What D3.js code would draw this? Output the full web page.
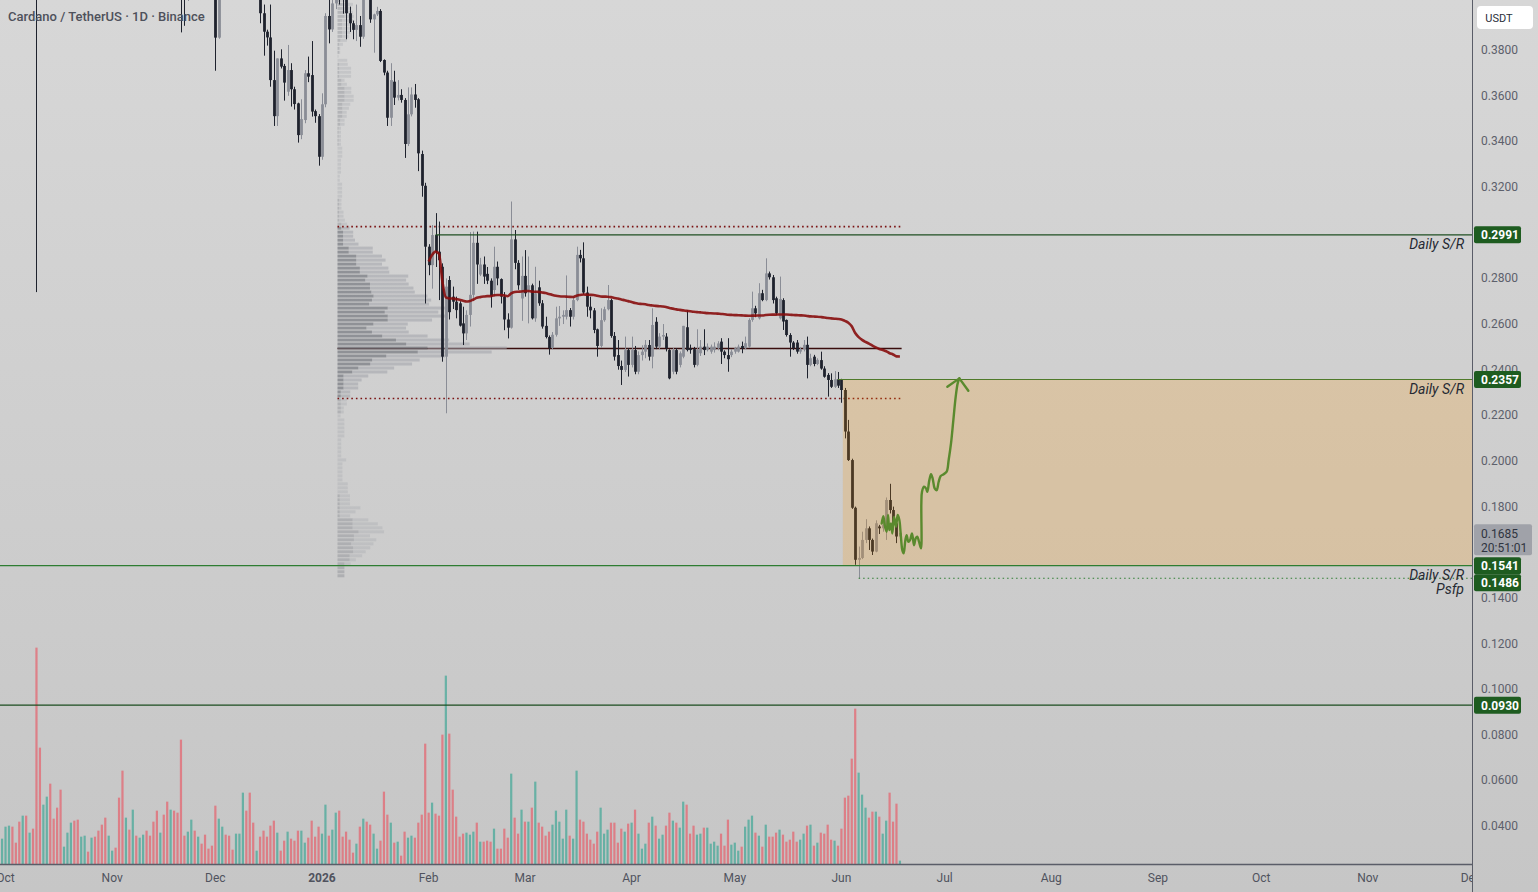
<!DOCTYPE html>
<meta charset="utf-8">
<head>
<script src="https://cdn.jsdelivr.net/npm/d3@7"></script>
<style>
  body { margin: 0; background: #d2d2d2; }
  svg { display: block; font-family: Roboto, "Noto Sans", sans-serif; }
</style>
</head>
<body>
<div id="chart"></div>
<script>
// ---- data ----
var title = "Cardano / TetherUS \u00b7 1D \u00b7 Binance";
var firstDay = [2025, 8, 30];   // 30 Sep 2025, one candle per day after that

var opens = [
  .790,.800,.825,.845,.840,.820,.810,.865,.810,.825,
  .790,.640,.620,.700,.720,.690,.660,.630,.610,.625,
  .645,.660,.630,.620,.635,.645,.640,.665,.650,.630,
  .615,.595,.610,.615,.590,.550,.520,.545,.535,.570,
  .560,.585,.595,.560,.550,.520,.505,.515,.485,.460,
  .475,.455,.440,.420,.410,.420,.425,.415,.435,.425,
  .415,.410,.406,.3855,.415,.445,.440,.420,.418,.425,
  .430,.460,.440,.425,.412,.415,.3962,.3881,.3856,.3669,
  .3511,.3764,.3731,.3618,.3713,.3629,.3567,.3428,.3494,.3699,
  .3691,.3533,.3511,.3333,.3563,.3950,.3891,.4005,.4100,.4050,
  .4020,.3962,.3918,.3889,.3910,.3859,.4120,.4060,.3935,.3957,
  .3972,.3757,.3702,.3504,.3662,.3592,.3604,.3582,.3389,.3519,
  .3606,.3585,.3345,.3206,.2939,.2858,.2990,.2917,.2851,.2457,
  .2793,.2720,.2698,.2691,.2603,.2559,.2640,.2728,.2956,.2817,
  .2861,.2820,.2790,.2749,.2851,.2797,.2720,.2620,.2584,.2971,
  .2868,.2712,.2811,.2749,.2770,.2625,.2761,.2691,.2592,.2543,
  .2495,.2553,.2625,.2632,.2632,.2661,.2632,.2705,.2903,.2888,
  .2738,.2676,.2660,.2577,.2504,.2617,.2665,.2705,.2548,.2464,
  .2416,.2399,.2486,.2421,.2486,.2391,.2464,.2479,.2508,.2457,
  .2610,.2501,.2545,.2545,.2486,.2391,.2486,.2421,.2457,.2586,
  .2494,.2490,.2421,.2472,.2501,.2486,.2479,.2486,.2494,.2523,
  .2479,.2464,.2464,.2479,.2479,.2504,.2494,.2501,.2618,.2669,
  .2625,.2735,.2705,.2822,.2805,.2713,.2625,.2705,.2618,.2552,
  .2519,.2519,.2479,.2490,.2509,.2421,.2457,.2425,.2442,.2405,
  .2377,.2355,.2325,.2358,.2355,.2311,.2129,.2004,.1795,.1567,
  .1575,.1654,.1705,.1654,.1603,.1713,.1705,.1698,.1829,.1785,
  .1727,.1669
];
var highs = [
  .805,.830,.850,.860,.845,.840,.870,.875,.830,.830,
  .800,.660,.710,.730,.725,.710,.680,.640,.630,.650,
  .670,.680,.650,.640,.650,.650,.670,.680,.660,.650,
  .625,.615,.620,.620,.595,.560,.560,.555,.580,.575,
  .590,.600,.600,.575,.565,.530,.520,.520,.495,.485,
  .480,.475,.445,.425,.430,.435,.430,.440,.440,.430,
  .420,.415,.410,.420,.450,.455,.445,.425,.430,.440,
  .470,.470,.445,.430,.420,.418,.400,.3890,.4000,.3798,
  .3764,.3804,.3740,.3823,.3743,.3640,.3570,.3585,.3713,.3772,
  .3840,.3540,.3520,.3611,.3962,.4020,.4100,.4150,.4200,.4100,
  .4040,.3991,.3930,.4000,.3950,.4140,.4180,.4080,.3960,.3990,
  .3980,.3760,.3710,.3743,.3710,.3669,.3629,.3590,.3637,.3637,
  .3652,.3590,.3360,.3219,.2950,.3034,.3086,.3049,.2866,.2800,
  .2810,.2764,.2720,.2700,.2676,.2660,.3003,.3005,.3005,.2890,
  .2896,.2850,.2800,.2939,.2874,.2800,.2740,.2647,.3137,.3012,
  .2880,.2896,.2924,.2896,.2777,.2851,.2790,.2705,.2632,.2550,
  .2565,.2676,.2679,.2660,.2813,.2670,.2720,.2939,.2925,.2958,
  .2764,.2720,.2670,.2580,.2669,.2676,.2771,.2710,.2565,.2530,
  .2440,.2545,.2495,.2545,.2504,.2480,.2507,.2530,.2530,.2669,
  .2630,.2560,.2600,.2560,.2490,.2495,.2495,.2480,.2592,.2661,
  .2510,.2500,.2577,.2530,.2577,.2515,.2510,.2520,.2525,.2538,
  .2485,.2538,.2490,.2500,.2510,.2523,.2545,.2625,.2742,.2680,
  .2779,.2750,.2888,.2830,.2815,.2720,.2808,.2713,.2620,.2560,
  .2525,.2530,.2500,.2530,.2545,.2470,.2465,.2450,.2479,.2415,
  .2385,.2384,.2394,.2390,.2360,.2320,.2180,.2010,.1800,.1625,
  .1690,.1745,.1713,.1660,.1740,.1720,.1740,.1840,.1900,.1800,
  .1740,.1690
];
var lows = [
  .775,.795,.820,.830,.815,.805,.805,.800,.795,.780,
  .274,.600,.610,.680,.650,.650,.620,.590,.605,.615,
  .630,.620,.610,.610,.625,.635,.635,.645,.620,.610,
  .590,.590,.600,.580,.540,.500,.510,.530,.525,.550,
  .550,.575,.550,.545,.510,.490,.500,.480,.450,.450,
  .445,.430,.3878,.3907,.4016,.410,.410,.410,.420,.410,
  .405,.4035,.371,.385,.413,.430,.415,.413,.410,.415,
  .425,.435,.410,.405,.405,.3918,.3776,.3820,.3640,.3468,
  .3468,.3720,.3579,.3600,.3553,.3540,.3395,.3410,.3480,.3660,
  .3509,.3482,.3294,.3320,.3550,.3830,.3880,.3980,.4000,.3960,
  .3848,.3880,.3848,.3840,.3815,.3850,.4035,.3920,.3789,.3950,
  .3748,.3690,.3468,.3468,.3560,.3580,.3570,.3328,.3380,.3510,
  .3548,.3270,.3158,.2690,.2814,.2755,.2850,.2705,.2435,.2209,
  .2620,.2666,.2625,.2589,.2508,.2530,.2589,.2700,.2776,.2810,
  .2776,.2775,.2672,.2720,.2770,.2690,.2573,.2537,.2580,.2840,
  .2750,.2614,.2720,.2603,.2620,.2610,.2680,.2580,.2537,.2466,
  .2490,.2545,.2592,.2600,.2620,.2589,.2620,.2700,.2870,.2730,
  .2632,.2625,.2560,.2457,.2495,.2610,.2660,.2540,.2440,.2400,
  .2333,.2390,.2370,.2410,.2380,.2380,.2440,.2450,.2440,.2406,
  .2490,.2490,.2530,.2480,.2358,.2380,.2380,.2410,.2450,.2480,
  .2470,.2410,.2415,.2460,.2464,.2480,.2470,.2475,.2485,.2425,
  .2450,.2391,.2455,.2470,.2475,.2472,.2490,.2495,.2610,.2630,
  .2620,.2700,.2700,.2795,.2690,.2640,.2620,.2574,.2545,.2457,
  .2486,.2470,.2470,.2480,.2362,.2415,.2415,.2420,.2400,.2365,
  .2282,.2320,.2320,.2320,.2255,.2099,.2000,.1790,.1545,.1486,
  .1570,.1640,.1610,.1588,.1600,.1680,.1690,.1654,.1770,.1700,
  .1640,.1660
];
var closes = [
  .800,.825,.845,.840,.820,.810,.865,.810,.825,.790,
  .640,.620,.700,.720,.690,.660,.630,.610,.625,.645,
  .660,.630,.620,.635,.645,.640,.665,.650,.630,.615,
  .595,.610,.615,.590,.550,.520,.545,.535,.570,.560,
  .585,.595,.560,.550,.520,.505,.515,.485,.460,.475,
  .455,.440,.420,.410,.420,.425,.415,.435,.425,.415,
  .410,.406,.3855,.415,.445,.440,.420,.418,.425,.430,
  .460,.440,.425,.412,.415,.3962,.3881,.3856,.3669,.3511,
  .3764,.3728,.3658,.3713,.3629,.3564,.3428,.3498,.3699,.3684,
  .3531,.3511,.3333,.3563,.3950,.3891,.4005,.4100,.4050,.4020,
  .3962,.3918,.3889,.3910,.3859,.4120,.4060,.3935,.3957,.3972,
  .3753,.3702,.3504,.3669,.3592,.3604,.3582,.3389,.3519,.3606,
  .3582,.3348,.3206,.2939,.2858,.2990,.2917,.2880,.2457,.2764,
  .2652,.2698,.2661,.2593,.2559,.2640,.2728,.2956,.2861,.2861,
  .2808,.2790,.2723,.2851,.2800,.2720,.2620,.2584,.2971,.2868,
  .2770,.2811,.2735,.2770,.2625,.2735,.2691,.2589,.2543,.2495,
  .2553,.2625,.2632,.2640,.2661,.2632,.2705,.2903,.2888,.2738,
  .2676,.2660,.2574,.2504,.2617,.2665,.2705,.2548,.2457,.2416,
  .2399,.2486,.2421,.2486,.2391,.2464,.2479,.2509,.2457,.2596,
  .2501,.2545,.2552,.2494,.2362,.2486,.2391,.2472,.2592,.2486,
  .2486,.2421,.2486,.2501,.2486,.2501,.2501,.2501,.2515,.2479,
  .2464,.2446,.2479,.2494,.2501,.2494,.2516,.2618,.2669,.2647,
  .2735,.2705,.2822,.2805,.2705,.2647,.2710,.2611,.2552,.2519,
  .2494,.2479,.2490,.2509,.2421,.2450,.2425,.2443,.2405,.2369,
  .2355,.2325,.2358,.2330,.2311,.2129,.2004,.1795,.1567,.1575,
  .1654,.1705,.1654,.1603,.1727,.1705,.1720,.1829,.1785,.1720,
  .1669,.1685
];
// volume, millions
var volumes = [
  76,112,115,112,64,127,145,145,94,106,
  649,349,178,202,241,136,169,223,52,94,
  124,130,133,82,85,37,79,82,100,118,
  139,85,40,49,199,280,139,103,163,85,
  79,88,100,85,127,160,94,148,187,163,
  160,154,373,85,97,133,100,82,61,88,
  46,55,175,136,112,88,85,43,91,91,
  214,160,214,124,40,82,100,82,115,130,
  94,40,70,97,76,70,100,100,64,79,
  130,82,112,91,178,85,103,154,160,82,
  97,73,34,61,112,136,127,118,91,46,
  70,217,148,124,64,67,25,97,79,85,
  79,124,148,361,154,184,151,145,388,565,
  391,223,142,82,91,94,88,97,124,67,
  67,70,67,106,46,46,106,79,271,139,
  91,163,127,127,169,247,124,112,85,97,
  118,160,127,76,163,85,76,280,133,127,
  91,73,61,97,169,91,103,124,124,64,
  106,97,121,124,163,91,46,61,124,142,
  115,76,88,115,154,130,124,109,187,178,
  91,115,88,91,109,109,61,67,55,91,
  55,133,58,64,40,52,112,133,145,94,
  85,52,118,82,82,94,103,88,67,73,
  97,67,73,91,115,118,55,64,94,91,
  118,73,70,55,106,199,205,316,466,274,
  208,169,139,157,157,142,91,130,214,127,
  181,10
];

// 0.3000 and 0.1600 sit under the level badges in the picture, so they are not listed
var priceTicks = [0.38,0.36,0.34,0.32,0.28,0.26,0.24,0.22,0.20,0.18,0.14,0.12,0.10,0.08,0.06,0.04];
var lastPrice = 0.1685, countdown = "20:51:01";

// support / resistance levels (fromDay = candle index where the ray starts, null = full width)
var levelPrices = [0.2991, 0.2357, 0.1541, 0.1486, 0.0930];
var levelFrom   = [126, 243, null, 249, null];
var levelNotes  = ["Daily S/R", "Daily S/R", "Daily S/R", "Psfp", ""];

var zoneTop = 0.2357, zoneBottom = 0.1541, zoneFromDay = 244.4;
var profileFrom = 98, profileTo = 261, profileRows = 155;
var vwapAnchor = 124;   // 1 Feb 2026

// hand drawn projection (day index, price)
var arrowDays = [255.7,256.18,256.67,257.15,257.54,257.93,258.41,258.8,259.28,259.86,260.35,260.83,261.22,261.7,262.09,262.58,262.96,263.45,263.93,264.51,265.1,265.58,266.06,266.55,267.13,267.23,267.42,268.0,268.58,268.97,269.55,270.04,270.52,271.1,271.68,272.27,272.85,273.62,274.59,275.17,275.85,276.53,277.21,277.79,278.28];
var arrowPrices = [.1726,.1758,.1712,.1690,.1763,.1697,.1726,.1682,.1755,.1712,.1763,.1741,.1682,.1609,.1595,.1653,.1675,.1646,.1653,.1682,.1631,.1661,.1668,.1646,.1617,.1814,.1865,.1887,.1880,.1865,.1916,.1942,.1923,.1880,.1872,.1909,.1934,.1941,.1953,.2004,.2077,.2179,.2281,.2340,.2362];
var headDays = [274.79, 278.28, 280.89];
var headPrices = [.2325, .2362, .2308];

// ---- layout ----
var W = 1538, H = 892;
var plotR = 1472, plotB = 864;
var day = 864e5;
var t0 = Date.UTC(firstDay[0], firstDay[1], firstDay[2]);
function dateOf(i) { return new Date(t0 + i * day); }

var jan1 = Date.UTC(2026, 0, 1), pxDay = 3.44;
var x = d3.scaleUtc()
  .domain([new Date(jan1 - 322 / pxDay * day), new Date(jan1 + (plotR - 322) / pxDay * day)])
  .range([0, plotR]);
var y = d3.scaleLinear().domain([0.38, 0.04]).range([50.2, 826.1]);
var yv = d3.scaleLinear().domain([0, 650]).range([plotB, 647.3]);

var candles = opens.map(function (o, i) {
  return { i: i, date: dateOf(i), o: o, h: highs[i], l: lows[i], c: closes[i], v: volumes[i], up: closes[i] >= o };
});

var svg = d3.select("#chart").append("svg").attr("width", W).attr("height", H);
var defs = svg.append("defs");
var grad = defs.append("linearGradient").attr("id", "bg").attr("x1", 0).attr("y1", 0).attr("x2", 0).attr("y2", 1);
grad.append("stop").attr("offset", "0%").attr("stop-color", "#d7d7d7");
grad.append("stop").attr("offset", "100%").attr("stop-color", "#c6c6c6");
defs.append("clipPath").attr("id", "plot").append("rect").attr("width", plotR).attr("height", plotB);
defs.append("clipPath").attr("id", "xaxis").append("rect").attr("width", plotR).attr("height", H);

svg.append("rect").attr("width", W).attr("height", H).attr("fill", "url(#bg)");

var plot = svg.append("g").attr("clip-path", "url(#plot)");

// volume
plot.append("g").selectAll("rect").data(candles).join("rect")
  .attr("x", function (d) { return x(d.date) - 1.1; })
  .attr("width", 2.2)
  .attr("y", function (d) { return yv(d.v); })
  .attr("height", function (d) { return plotB - yv(d.v); })
  .attr("fill", function (d) { return d.up ? "rgba(8,153,129,0.5)" : "rgba(242,54,69,0.5)"; });

// fixed range volume profile
var pc = candles.slice(profileFrom, profileTo + 1);
var lo = d3.min(pc, function (d) { return d.l; }), hi = d3.max(pc, function (d) { return d.h; });
var step = (hi - lo) / profileRows;
var upRow = new Array(profileRows).fill(0), dnRow = new Array(profileRows).fill(0);
pc.forEach(function (d) {
  var r0 = Math.max(0, Math.floor((d.l - lo) / step)), r1 = Math.min(profileRows - 1, Math.floor((d.h - lo) / step));
  var share = d.v / (r1 - r0 + 1);
  for (var r = r0; r <= r1; r++) (d.up ? upRow : dnRow)[r] += share;
});
var rowTot = upRow.map(function (u, r) { return u + dnRow[r]; });
var poc = d3.maxIndex(rowTot), total = d3.sum(rowTot);
var a = poc, b = poc, acc = rowTot[poc];
while (acc < 0.7 * total) {
  var above = b + 1 < profileRows ? rowTot[b + 1] : -1, below = a > 0 ? rowTot[a - 1] : -1;
  if (above >= below) { b++; acc += above; } else { a--; acc += below; }
}
var pL = x(dateOf(profileFrom)) - 1.7, pR = x(dateOf(profileTo)) + 1.7;
var maxW = 0.3 * (pR - pL), wx = d3.scaleLinear().domain([0, d3.max(rowTot)]).range([0, maxW]);

plot.append("line").attr("x1", pL).attr("x2", pR)
  .attr("y1", y(lo + (poc + 0.5) * step)).attr("y2", y(lo + (poc + 0.5) * step))
  .attr("stroke", "#3a0d0d").attr("stroke-width", 1.5);

var rowsG = plot.append("g");
d3.range(profileRows).forEach(function (r) {
  var yt = y(lo + (r + 1) * step), yb = y(lo + r * step), inVA = r >= a && r <= b;
  rowsG.append("rect").attr("x", pL).attr("y", yt).attr("width", wx(upRow[r])).attr("height", Math.max(1, yb - yt - 1))
    .attr("fill", inVA ? "rgba(118,120,128,0.72)" : "rgba(118,120,128,0.35)");
  rowsG.append("rect").attr("x", pL + wx(upRow[r])).attr("y", yt).attr("width", wx(dnRow[r])).attr("height", Math.max(1, yb - yt - 1))
    .attr("fill", inVA ? "rgba(160,162,170,0.55)" : "rgba(160,162,170,0.3)");
});
[lo + (b + 1) * step, lo + a * step].forEach(function (p) {
  plot.append("line").attr("x1", pL).attr("x2", pR).attr("y1", y(p)).attr("y2", y(p))
    .attr("stroke", "#7a1212").attr("stroke-width", 1.6).attr("stroke-dasharray", "1.6,3");
});

// candles
var cg = plot.append("g");
cg.selectAll("line").data(candles).join("line")
  .attr("x1", function (d) { return Math.round(x(d.date)) + 0.5; })
  .attr("x2", function (d) { return Math.round(x(d.date)) + 0.5; })
  .attr("y1", function (d) { return y(d.h); })
  .attr("y2", function (d) { return y(d.l); })
  .attr("stroke", function (d) { return d.up ? "#8a8d96" : "#1e222d"; });
cg.selectAll("rect").data(candles).join("rect")
  .attr("x", function (d) { return Math.round(x(d.date)) - 0.9; })
  .attr("width", 2.8)
  .attr("y", function (d) { return y(Math.max(d.o, d.c)); })
  .attr("height", function (d) { return Math.max(1, Math.abs(y(d.o) - y(d.c))); })
  .attr("fill", function (d) { return d.up ? "#8a8d96" : "#1e222d"; });

// anchored vwap
var cv = 0, cpv = 0;
var vwap = candles.slice(vwapAnchor).map(function (d) {
  cv += d.v; cpv += d.v * (d.h + d.l + d.c) / 3;
  return { date: d.date, p: cpv / cv };
});
plot.append("path").datum(vwap)
  .attr("d", d3.line().curve(d3.curveMonotoneX).x(function (d) { return x(d.date); }).y(function (d) { return y(d.p); }))
  .attr("fill", "none").attr("stroke", "#870d0d").attr("stroke-width", 2.6).attr("stroke-opacity", 0.9);

// zone
plot.append("rect")
  .attr("x", x(dateOf(zoneFromDay))).attr("y", y(zoneTop))
  .attr("width", plotR - x(dateOf(zoneFromDay))).attr("height", y(zoneBottom) - y(zoneTop))
  .attr("fill", "rgba(255,152,0,0.2)");

// levels
var levelStroke = ["#1f4f22", "#4f7a2a", "#2e7d32", "#2e7d32", "#1b4d1f"];
levelPrices.forEach(function (p, k) {
  var x1 = levelFrom[k] == null ? 0 : x(dateOf(levelFrom[k]));
  plot.append("line").attr("x1", x1).attr("x2", plotR).attr("y1", y(p)).attr("y2", y(p))
    .attr("stroke", levelStroke[k]).attr("stroke-width", 1.2)
    .attr("stroke-dasharray", k === 3 ? "1.5,3" : null);
  if (levelNotes[k]) {
    svg.append("text").attr("x", 1464).attr("y", y(p) + (k === 3 ? 16 : 14.5)).attr("text-anchor", "end")
      .attr("font-size", 14).attr("font-style", "italic").attr("fill", "#262a33").text(levelNotes[k]);
  }
});

// projection arrow
var arrowPts = arrowDays.map(function (d, k) { return [x(dateOf(d)), y(arrowPrices[k])]; });
plot.append("path").attr("d", d3.line().curve(d3.curveCatmullRom)(arrowPts))
  .attr("fill", "none").attr("stroke", "#5a8a2e").attr("stroke-width", 2.4).attr("stroke-linecap", "round").attr("stroke-linejoin", "round");
plot.append("path").attr("d", d3.line()(headDays.map(function (d, k) { return [x(dateOf(d)), y(headPrices[k])]; })))
  .attr("fill", "none").attr("stroke", "#5a8a2e").attr("stroke-width", 2.4).attr("stroke-linecap", "round").attr("stroke-linejoin", "round");

// title
svg.append("text").attr("x", 8).attr("y", 21).attr("font-size", 13).attr("font-weight", 500)
  .attr("fill", "#4e515b").text(title);

// time axis
svg.append("line").attr("x1", 0).attr("x2", plotR).attr("y1", plotB + 0.5).attr("y2", plotB + 0.5)
  .attr("stroke", "#5a5d68").attr("stroke-width", 1.5);
var months = d3.utcMonth.range(new Date(Date.UTC(2025, 9, 1)), new Date(Date.UTC(2027, 0, 1)));
svg.append("g").attr("clip-path", "url(#xaxis)").selectAll("text").data(months).join("text")
  .attr("x", function (d) { return x(d); }).attr("y", 882).attr("text-anchor", "middle")
  .attr("font-size", 12).attr("fill", "#50535e")
  .attr("font-weight", function (d) { return d.getUTCMonth() === 0 ? 700 : 400; })
  .text(function (d) { return d.getUTCMonth() === 0 ? d3.utcFormat("%Y")(d) : d3.utcFormat("%b")(d); });

// price axis
svg.append("line").attr("x1", plotR + 0.5).attr("x2", plotR + 0.5).attr("y1", 0).attr("y2", H)
  .attr("stroke", "#5a5d68").attr("stroke-width", 1);
svg.append("g").selectAll("text").data(priceTicks).join("text")
  .attr("x", 1481).attr("y", function (d) { return y(d) + 4; })
  .attr("font-size", 12).attr("fill", "#5d606b").text(function (d) { return d.toFixed(4); });

svg.append("rect").attr("x", 1477).attr("y", 6).attr("width", 56).attr("height", 23).attr("rx", 4).attr("fill", "#ffffff");
svg.append("text").attr("x", 1499).attr("y", 21.5).attr("text-anchor", "middle").attr("font-size", 11).attr("fill", "#2a2e39").text("USDT");

// last price badge
var ly = y(lastPrice);
svg.append("rect").attr("x", 1474).attr("y", ly - 8.5).attr("width", 58).attr("height", 31).attr("rx", 2).attr("fill", "#a0a2a9");
svg.append("text").attr("x", 1481).attr("y", ly + 5).attr("font-size", 12).attr("fill", "#2f3440").text(lastPrice.toFixed(4));
svg.append("text").attr("x", 1481).attr("y", ly + 19).attr("font-size", 12).attr("fill", "#2f3440").text(countdown);

// level badges, pushed apart when they collide
var badgeY = levelPrices.map(function (p) { return y(p); });
var order = d3.range(levelPrices.length).sort(function (i, j) { return badgeY[i] - badgeY[j]; });
var prevBottom = -Infinity;
order.forEach(function (k) {
  var c = Math.max(badgeY[k], prevBottom + 8.5);
  prevBottom = c + 8.5;
  svg.append("rect").attr("x", 1474).attr("y", c - 8.5).attr("width", 47).attr("height", 17).attr("rx", 2).attr("fill", "#1e5c20");
  svg.append("text").attr("x", 1481).attr("y", c + 4.5).attr("font-size", 12).attr("font-weight", 700)
    .attr("fill", "#ffffff").text(levelPrices[k].toFixed(4));
});
</script>
</body>
